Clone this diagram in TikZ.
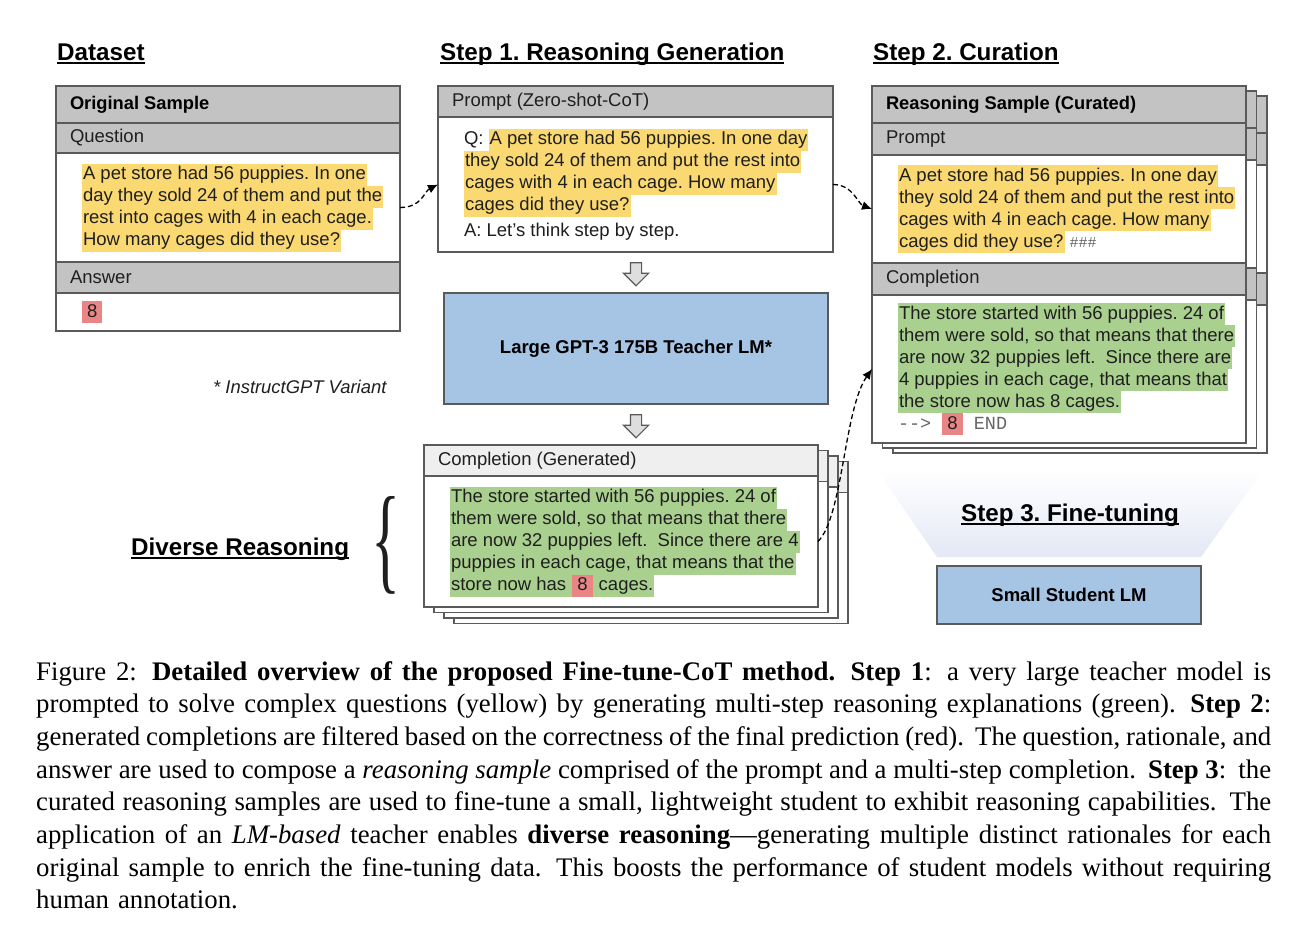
\documentclass[tikz,border=0pt]{standalone}
\usepackage{fontspec}
\setmainfont{Liberation Serif}
\setmonofont{Liberation Mono}
\newfontfamily\arialfont{Liberation Sans}
\usepackage{graphicx}
\usepackage{tikz}
\usetikzlibrary{arrows.meta,positioning,shapes.arrows}
\usepackage{xcolor}
\frenchspacing

\definecolor{hdrgray}{HTML}{C3C3C3}
\definecolor{hdrlight}{HTML}{EFEFEF}
\definecolor{boxline}{HTML}{5A5A5A}
\definecolor{hlyellow}{HTML}{FBD972}
\definecolor{hlgreen}{HTML}{AAD08F}
\definecolor{hlred}{HTML}{E98585}
\definecolor{lmblue}{HTML}{A6C4E4}
\definecolor{funnel}{HTML}{E3E8F5}
\definecolor{arrowgray}{HTML}{DEDEDE}
\definecolor{codegray}{HTML}{666666}

% highlighted line pieces
\newcommand\hlbox[2]{{\setlength\fboxsep{0pt}\colorbox{#1}{\rule[-6pt]{0pt}{22pt}\hspace{1pt}#2\hspace{1pt}}}}
\newcommand\hly[1]{\hlbox{hlyellow}{#1}}
\newcommand\hlg[1]{\hlbox{hlgreen}{#1}}
\newcommand\hlr[1]{\hlbox{hlred}{\hspace{4pt}#1\hspace{4pt}}}
\newcommand\code[1]{{\ttfamily\color{codegray}#1}}
\newcommand\headul[1]{\setbox0\hbox{#1}\rlap{\rule[-4pt]{\wd0}{2pt}}\box0}
\newcommand\capline[1]{\hbox to 1235pt{\spaceskip=0.25em plus 0.4em minus 0.1em
  \xspaceskip=0.45em plus 0.4em minus 0.1em #1}}

\begin{document}
\begin{tikzpicture}[x=1pt, y=-1pt,
  every node/.style={font=\arialfont\fontsize{18.5}{22}\selectfont, text=black!88},
  box/.style={draw=boxline, line width=1.4pt, outer sep=0pt, anchor=north west, inner ysep=0pt, align=flush left},
  hdr/.style={box, fill=hdrgray, inner xsep=14pt},
  body/.style={box, fill=white, inner xsep=26pt},
  boldhdr/.style={font=\arialfont\bfseries\fontsize{18.3}{22}\selectfont, text=black},
  model/.style={draw=boxline, line width=1.4pt, fill=lmblue, text=black, font=\arialfont\bfseries\fontsize{18.5}{22}\selectfont},
  heading/.style={anchor=base west, inner sep=0pt, text=black, font=\arialfont\bfseries\fontsize{24.2}{28}\selectfont},
  down/.style={single arrow, draw=boxline, fill=arrowgray, line width=1.1pt, rotate=-90, minimum height=23pt, single arrow head extend=7pt, inner sep=5pt},
  flow/.style={line width=1.3pt, dash pattern=on 5pt off 3pt, -{Latex[length=10pt,width=9pt]}}]
  \useasboundingbox (0,0) rectangle (1298,942);
  \fill[white] (0,0) rectangle (1298,942);

  % headings
  \node[heading] (hdata) at (57,60) {\headul{Dataset}};
  \node[heading] (hstep1) at (440,60) {\headul{Step 1. Reasoning Generation}};
  \node[heading] (hstep2) at (873,60) {\headul{Step 2. Curation}};

  % dataset
  \node[hdr, boldhdr, text width=316pt, minimum height=37pt] (orig) at (56,86) {Original Sample};
  \node[hdr, text width=316pt, minimum height=30pt, below=0pt of orig] (orig-qhead) {Question};
  \node[body, text width=292pt, minimum height=109pt, below=0pt of orig-qhead] (orig-q)
    {\hly{A pet store had 56 puppies. In one}\\
     \hly{day they sold 24 of them and put the}\\
     \hly{rest into cages with 4 in each cage.}\\
     \hly{How many cages did they use?}};
  \node[hdr, text width=316pt, minimum height=31pt, below=0pt of orig-q] (orig-ahead) {Answer};
  \node[body, text width=292pt, minimum height=38pt, below=0pt of orig-ahead] (orig-a) {\hlr{8}};
  \node[anchor=base west, inner sep=0pt, font=\arialfont\itshape\fontsize{18.4}{22}\selectfont] (note) at (213,393) {* InstructGPT Variant};

  % step 1
  \node[hdr, text width=367pt, minimum height=31pt] (prompt) at (438,86) {Prompt (Zero-shot-CoT)};
  \node[body, text width=343pt, minimum height=135pt, below=0pt of prompt] (prompt-body)
    {\mbox{Q: \hly{A pet store had 56 puppies. In one day}}\\
     \hly{they sold 24 of them and put the rest into}\\
     \hly{cages with 4 in each cage. How many}\\
     \hly{cages did they use?}\\[4pt]
     A: Let’s think step by step.};
  \node[down] (down1) at (636,271.5) {};
  \node[model, minimum width=384pt, minimum height=111pt] (teacher) at (636,348.5) {Large GPT-3 175B Teacher LM*};
  \node[down] (down2) at (636,423.5) {};

  % generated completions (stack)
  \foreach \k in {3,2,1} {
    \begin{scope}[shift={(10*\k,5.5*\k)}]
      \filldraw[fill=white, draw=boxline, line width=1.4pt] (424,445) rectangle (818,607);
      \filldraw[fill=hdrlight, draw=boxline, line width=1.4pt] (424,445) rectangle (818,476);
    \end{scope}
  }
  \node[hdr, fill=hdrlight, text width=366pt, minimum height=31pt] (gen) at (424,445) {Completion (Generated)};
  \node[body, text width=342pt, minimum height=131pt, below=0pt of gen] (gen-body)
    {\hlg{The store started with 56 puppies. 24 of}\\
     \hlg{them were sold, so that means that there}\\
     \hlg{are now 32 puppies left.\ \ Since there are 4}\\
     \hlg{puppies in each cage, that means that the}\\
     \mbox{\hlg{store now has }\hlr{8}\hlg{ cages.}}};
  \node[heading] (hdiv) at (131,555) {\headul{Diverse Reasoning}};
  \node[inner sep=0pt] (brace) at (386,545) {\resizebox{29pt}{82pt}{\rmfamily\{}};

  % step 2 (stack)
  \foreach \k in {2,1} {
    \begin{scope}[shift={(10.5*\k,5*\k)}]
      \filldraw[fill=white, draw=boxline, line width=1.4pt] (872,86) rectangle (1246,443);
      \filldraw[fill=hdrgray, draw=boxline, line width=1.4pt] (872,86) rectangle (1246,123);
      \filldraw[fill=hdrgray, draw=boxline, line width=1.4pt] (872,123) rectangle (1246,155);
      \filldraw[fill=hdrgray, draw=boxline, line width=1.4pt] (872,263) rectangle (1246,295);
    \end{scope}
  }
  \node[hdr, boldhdr, text width=346pt, minimum height=37pt] (cur) at (872,86) {Reasoning Sample (Curated)};
  \node[hdr, text width=346pt, minimum height=32pt, below=0pt of cur] (cur-phead) {Prompt};
  \node[body, text width=322pt, minimum height=108pt, below=0pt of cur-phead] (cur-p)
    {\hly{A pet store had 56 puppies. In one day}\\
     \hly{they sold 24 of them and put the rest into}\\
     \hly{cages with 4 in each cage. How many}\\
     \mbox{\hly{cages did they use?} {\fontsize{15}{22}\selectfont\code{\#\#\#}}}};
  \node[hdr, text width=346pt, minimum height=32pt, below=0pt of cur-p] (cur-chead) {Completion};
  \node[body, text width=322pt, minimum height=148pt, below=0pt of cur-chead] (cur-c)
    {\hlg{The store started with 56 puppies. 24 of}\\
     \hlg{them were sold, so that means that there}\\
     \hlg{are now 32 puppies left.\ \ Since there are}\\
     \hlg{4 puppies in each cage, that means that}\\
     \hlg{the store now has 8 cages.}\\
     \mbox{\code{-{}-{}>\ }\hlr{8}\code{\ END}}};

  % step 3
  \shade[top color=white, bottom color=funnel] (877,470) -- (1263,470) -- (1201,557) -- (937,557) -- cycle;
  \node[heading, anchor=base] (hstep3) at (1070,521) {\headul{Step 3. Fine-tuning}};
  \node[model, minimum width=264pt, minimum height=58pt] (student) at (1069,595) {Small Student LM};

  % connectors
  \draw[flow] (orig-q.east) .. controls +(22,0) and +(-14,7) .. (prompt-body.west);
  \draw[flow] (prompt-body.east) .. controls +(20,0) and +(-14,-5) .. (cur-p.west);
  \draw[flow] (gen-body.east) .. controls +(25,-25) and +(-28,40) .. (cur-c.west);

  % caption
  \node[anchor=north west, inner sep=0pt, text width=1235pt, text=black, font=\rmfamily\nonfrenchspacing\fontsize{26.8}{32.7}\selectfont] (caption) at (36,661)
    {\capline{Figure 2: \textbf{Detailed overview of the proposed Fine-tune-CoT method.} \textbf{Step 1}: a very large teacher model is}
     \capline{prompted to solve complex questions (yellow) by generating multi-step reasoning explanations (green). \textbf{Step 2}:}
     \capline{generated completions are filtered based on the correctness of the final prediction (red). The question, rationale, and}
     \capline{answer are used to compose a \textit{reasoning sample} comprised of the prompt and a multi-step completion. \textbf{Step 3}: the}
     \capline{curated reasoning samples are used to fine-tune a small, lightweight student to exhibit reasoning capabilities. The}
     \capline{application of an \textit{LM-based} teacher enables \textbf{diverse reasoning}—generating multiple distinct rationales for each}
     \capline{original sample to enrich the fine-tuning data. This boosts the performance of student models without requiring}
     \hbox{human annotation.}};
\end{tikzpicture}
\end{document}
